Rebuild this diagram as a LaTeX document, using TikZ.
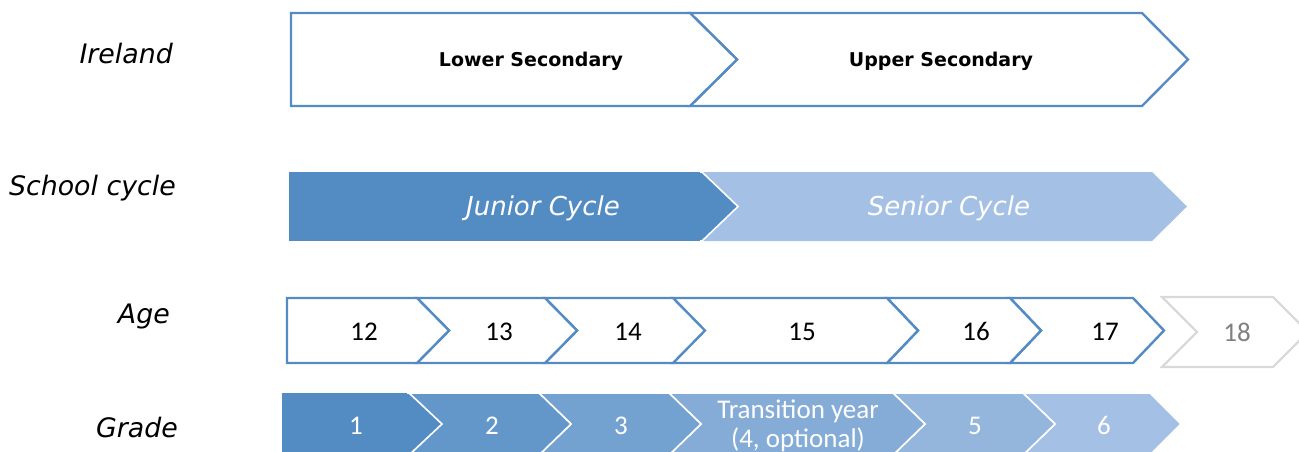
\documentclass[tikz,border=0pt]{standalone}
\usepackage{fontspec}
\setmainfont{DejaVu Sans}
\newfontfamily\calib{Carlito}
\definecolor{edgeblue}{RGB}{84,139,196}
\definecolor{greyedge}{RGB}{217,217,217}
\definecolor{greytext}{RGB}{128,128,128}
\definecolor{jc}{RGB}{83,140,194}
\definecolor{sc}{RGB}{164,192,228}
\definecolor{gA}{RGB}{83,140,194}
\definecolor{gB}{RGB}{99,151,202}
\definecolor{gC}{RGB}{115,162,208}
\definecolor{gD}{RGB}{132,172,214}
\definecolor{gE}{RGB}{148,182,221}
\definecolor{gF}{RGB}{164,192,228}
% #1 left, #2 right corner, #3 top, #4 bottom, #5 tip depth, #6 notch depth
\newcommand\chevpath[6]{(#1,#3) -- (#2,#3) -- ({#2+#5},{(#3+#4)/2}) -- (#2,#4) -- (#1,#4) -- ({#1+#6},{(#3+#4)/2}) -- cycle}
\begin{document}
\begin{tikzpicture}[x=1pt,y=-1pt,
  outl/.style={draw=edgeblue,line width=2.4pt,fill=white,line join=miter},
  greyoutl/.style={draw=greyedge,line width=2.4pt,fill=white},
  filled/.style={draw=white,line width=1.6pt},
  rowlabel/.style={font=\fontsize{26.8}{30}\selectfont\itshape,anchor=base east,inner sep=0pt},
  boldtxt/.style={font=\fontsize{19}{22}\selectfont\bfseries,anchor=base,inner sep=0pt},
  cyctxt/.style={font=\fontsize{26}{30}\selectfont\itshape,text=white,anchor=base,inner sep=0pt},
  num/.style={font=\calib\fontsize{27}{31}\selectfont,anchor=base,inner sep=0pt},
  gnum/.style={num,text=white}]
\useasboundingbox (0,0) rectangle (1299,451);
\clip (0,0) rectangle (1299,451);
% row labels
\node[rowlabel] (lIre) at (173,63) {Ireland};
\node[rowlabel] (lSch) at (176,195) {School cycle};
\node[rowlabel] (lAge) at (170,323) {Age};
\node[rowlabel] (lGra) at (178,437) {Grade};
% Ireland row
\draw[outl] \chevpath{690}{1142}{13}{106}{46}{47};
\draw[outl] \chevpath{291}{690}{13}{106}{47}{0};
\node[boldtxt] (lower) at (531,66) {Lower Secondary};
\node[boldtxt] (upper) at (941,66) {Upper Secondary};
% School cycle row
\fill[sc] \chevpath{702}{1152}{172}{241}{35}{35};
\draw[filled,fill=jc] \chevpath{289}{702}{172}{241}{36}{0};
\fill[jc] (289,172) rectangle (700,241);
\node[cyctxt] (junior) at (543,215) {Junior Cycle};
\node[cyctxt] (senior) at (949,215) {Senior Cycle};
% Age row
\draw[greyoutl] \chevpath{1162}{1273}{297}{367}{35}{35};
\draw[outl] \chevpath{1010}{1133}{298}{363}{31}{31};
\draw[outl] \chevpath{887}{1010}{298}{363}{31}{31};
\draw[outl] \chevpath{673}{887}{298}{363}{31}{31};
\draw[outl] \chevpath{545}{673}{298}{363}{32}{32};
\draw[outl] \chevpath{417}{545}{298}{363}{32}{32};
\draw[outl] \chevpath{287}{417}{298}{363}{32}{0};
\node[num] (a12) at (364,340) {12};
\node[num] (a13) at (499,340) {13};
\node[num] (a14) at (628,340) {14};
\node[num] (a15) at (802,340) {15};
\node[num] (a16) at (976,340) {16};
\node[num] (a17) at (1105,340) {17};
\node[num,text=greytext] (a18) at (1237,341) {18};
% Grade row
\draw[filled,fill=gF] \chevpath{1023}{1150}{393}{455}{31}{32};
\draw[filled,fill=gE] \chevpath{893}{1023}{393}{455}{32}{32};
\draw[filled,fill=gD] \chevpath{669}{893}{393}{455}{32}{32};
\draw[filled,fill=gC] \chevpath{539}{669}{393}{455}{32}{32};
\draw[filled,fill=gB] \chevpath{409}{539}{393}{455}{32}{32};
\draw[filled,fill=gA] \chevpath{282}{409}{393}{455}{33}{0};
\fill[gA] (282,393) rectangle (407,455);
\node[gnum] (g1) at (356,434) {1};
\node[gnum] (g2) at (492,434) {2};
\node[gnum] (g3) at (621,434) {3};
\node[gnum] (g4a) at (798,418) {Transition year};
\node[gnum] (g4b) at (798,447) {(4, optional)};
\node[gnum] (g5) at (975,434) {5};
\node[gnum] (g6) at (1104,434) {6};
\end{tikzpicture}
\end{document}
